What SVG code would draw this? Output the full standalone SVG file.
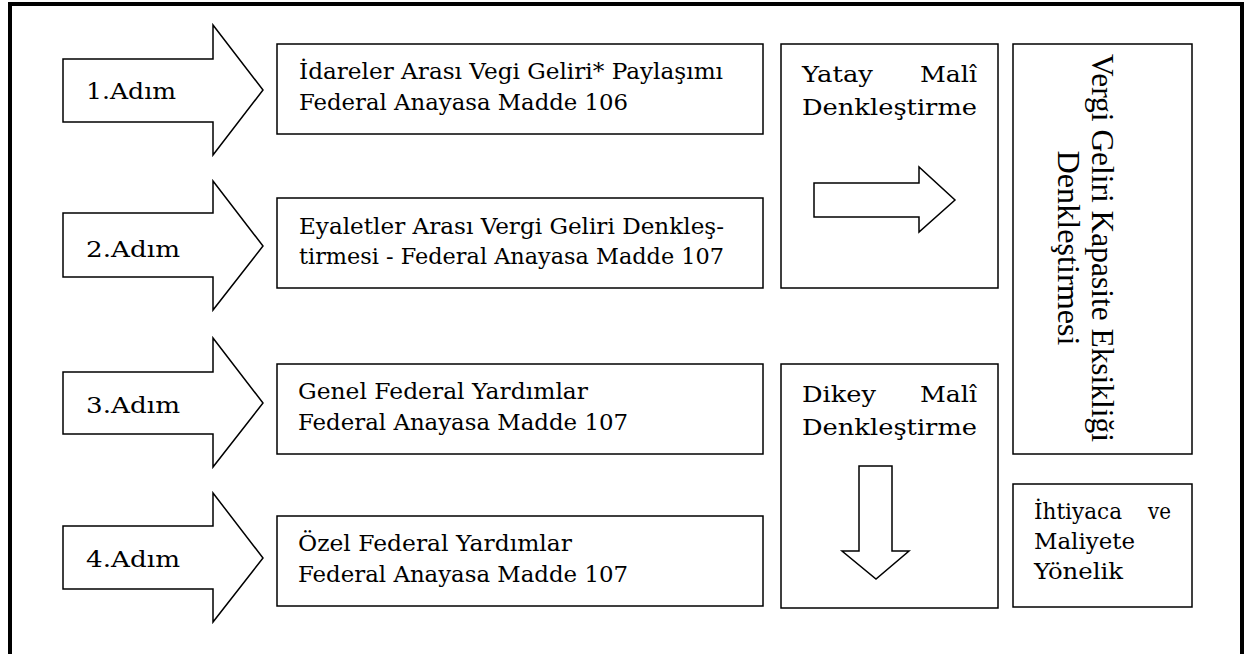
<svg xmlns="http://www.w3.org/2000/svg" width="1251" height="654" viewBox="0 0 1251 654">
<style>
.bg{fill:#fff}
.frame{fill:none;stroke:#000;stroke-width:4}
.box{fill:#fff;stroke:#000;stroke-width:1.5}
.arr{fill:#fff;stroke:#000;stroke-width:1.5;stroke-linejoin:miter}
.t{font-family:'DejaVu Serif','Liberation Serif',serif;font-size:22.5px;fill:#000}
.v{font-family:'Liberation Serif','Times New Roman',serif;font-size:31.5px;fill:#000}
</style>
<rect class="bg" x="0" y="0" width="1251" height="654"/>
<path class="frame" d="M10,660 V4 H1242 V660"/>

<g id="step1">
<path class="arr" d="M63,59 H213 V25 L263,90 L213,155 V122 H63 Z"/>
<text class="t" font-family="DejaVu Serif" x="86" y="99" textLength="90" lengthAdjust="spacingAndGlyphs">1.Adım</text>
</g>
<g id="step2">
<path class="arr" d="M63,213 H213 V181 L263,246 L213,310 V277 H63 Z"/>
<text class="t" font-family="DejaVu Serif" x="86" y="257" textLength="94" lengthAdjust="spacingAndGlyphs">2.Adım</text>
</g>
<g id="step3">
<path class="arr" d="M63,372 H213 V338 L263,403 L213,467 V434 H63 Z"/>
<text class="t" font-family="DejaVu Serif" x="86" y="413" textLength="94" lengthAdjust="spacingAndGlyphs">3.Adım</text>
</g>
<g id="step4">
<path class="arr" d="M63,526 H213 V493 L263,558 L213,622 V589 H63 Z"/>
<text class="t" font-family="DejaVu Serif" x="86" y="567" textLength="94" lengthAdjust="spacingAndGlyphs">4.Adım</text>
</g>

<g id="box1">
<rect class="box" x="277" y="44" width="486" height="90"/>
<text class="t" font-family="DejaVu Serif" x="299" y="79" textLength="424" lengthAdjust="spacingAndGlyphs">İdareler Arası Vegi Geliri* Paylaşımı</text>
<text class="t" font-family="DejaVu Serif" x="299" y="110" textLength="329" lengthAdjust="spacingAndGlyphs">Federal Anayasa Madde 106</text>
</g>
<g id="box2">
<rect class="box" x="277" y="198" width="486" height="90"/>
<text class="t" font-family="DejaVu Serif" x="299" y="234" textLength="425" lengthAdjust="spacingAndGlyphs">Eyaletler Arası Vergi Geliri Denkleş-</text>
<text class="t" font-family="DejaVu Serif" x="299" y="264" textLength="425" lengthAdjust="spacingAndGlyphs">tirmesi - Federal Anayasa Madde 107</text>
</g>
<g id="box3">
<rect class="box" x="277" y="364" width="486" height="90"/>
<text class="t" font-family="DejaVu Serif" x="298" y="399" textLength="290" lengthAdjust="spacingAndGlyphs">Genel Federal Yardımlar</text>
<text class="t" font-family="DejaVu Serif" x="298" y="430" textLength="330" lengthAdjust="spacingAndGlyphs">Federal Anayasa Madde 107</text>
</g>
<g id="box4">
<rect class="box" x="277" y="516" width="486" height="90"/>
<text class="t" font-family="DejaVu Serif" x="298" y="551" textLength="274" lengthAdjust="spacingAndGlyphs">Özel Federal Yardımlar</text>
<text class="t" font-family="DejaVu Serif" x="298" y="582" textLength="330" lengthAdjust="spacingAndGlyphs">Federal Anayasa Madde 107</text>
</g>

<g id="yatay">
<rect class="box" x="781" y="44" width="217" height="244"/>
<text class="t" font-family="DejaVu Serif" x="802" y="82" textLength="71" lengthAdjust="spacingAndGlyphs">Yatay</text>
<text class="t" font-family="DejaVu Serif" x="920" y="82" textLength="57" lengthAdjust="spacingAndGlyphs">Malî</text>
<text class="t" font-family="DejaVu Serif" x="802" y="115" textLength="175" lengthAdjust="spacingAndGlyphs">Denkleştirme</text>
</g>
<g id="dikey">
<rect class="box" x="781" y="364" width="217" height="244"/>
<text class="t" font-family="DejaVu Serif" x="802" y="402" textLength="74" lengthAdjust="spacingAndGlyphs">Dikey</text>
<text class="t" font-family="DejaVu Serif" x="920" y="402" textLength="57" lengthAdjust="spacingAndGlyphs">Malî</text>
<text class="t" font-family="DejaVu Serif" x="802" y="435" textLength="175" lengthAdjust="spacingAndGlyphs">Denkleştirme</text>
</g>

<g id="kapasite">
<rect class="box" x="1013" y="44" width="179" height="410"/>
<g transform="translate(1092,248) rotate(90)">
<text class="v" font-family="Liberation Serif" x="0" y="0" text-anchor="middle" textLength="388" lengthAdjust="spacingAndGlyphs">Vergi Geliri Kapasite Eksikliği</text>
<text class="v" font-family="Liberation Serif" x="0" y="34" text-anchor="middle" textLength="195" lengthAdjust="spacingAndGlyphs">Denkleştirmesi</text>
</g>
</g>
<g id="ihtiyac">
<rect class="box" x="1013" y="484" width="179" height="123"/>
<text class="t" font-family="DejaVu Serif" x="1034" y="519" textLength="88" lengthAdjust="spacingAndGlyphs">İhtiyaca</text>
<text class="t" font-family="DejaVu Serif" x="1148" y="519" textLength="23" lengthAdjust="spacingAndGlyphs">ve</text>
<text class="t" font-family="DejaVu Serif" x="1034" y="549" textLength="101" lengthAdjust="spacingAndGlyphs">Maliyete</text>
<text class="t" font-family="DejaVu Serif" x="1034" y="579" textLength="89" lengthAdjust="spacingAndGlyphs">Yönelik</text>
</g>

<g id="connectors">
<path class="arr" d="M814,183 H919 V167 L955,200 L919,232 V217 H814 Z"/>
<path class="arr" d="M859,466 H892 V551 H909 L876,579 L842,551 H859 Z"/>
</g>
</svg>
